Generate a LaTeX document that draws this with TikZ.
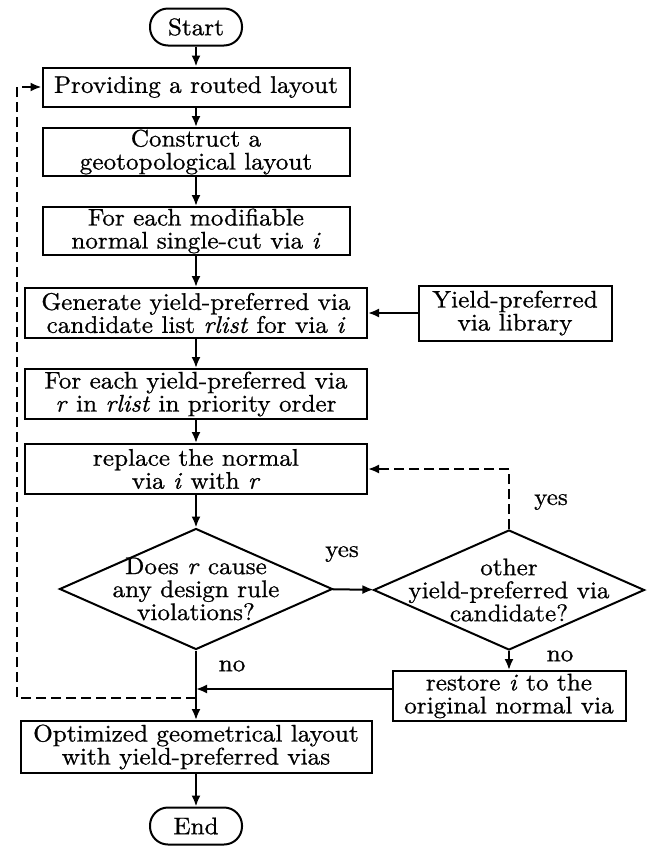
\documentclass[tikz,border=0pt]{standalone}
\usepackage{fontspec}
\setmainfont{lmroman10-regular.otf}[ItalicFont=lmroman10-italic.otf, FakeStretch=1.05, FakeBold=0.8]
\usetikzlibrary{shapes.geometric,arrows.meta}

\begin{document}
\begin{tikzpicture}[x=1pt, y=-1pt, font=\fontsize{24}{23}\selectfont,
    proc/.style={draw, line width=2pt, align=center, inner xsep=2pt, inner ysep=0pt, minimum height=50pt},
    term/.style={draw, line width=2pt, rounded corners=18pt, minimum width=92pt, minimum height=37pt, inner sep=0pt},
    decision/.style={draw, diamond, line width=2pt, minimum width=273pt, minimum height=121pt, inner sep=0pt},
    flowline/.style={line width=2pt, -{Latex[length=11pt,width=9pt]}},
    loopback/.style={flowline, dash pattern=on 10pt off 5pt}]
    \useasboundingbox (0,0) rectangle (649,847);

    \node[term] (start) at (196,27) {Start};
    \node[proc, minimum width=307pt, minimum height=39pt] (provide) at (196,87) {Providing a routed layout};
    \node[proc, minimum width=307pt, minimum height=48pt] (construct) at (196,152) {Construct a\\geotopological layout};
    \node[proc, minimum width=307pt, minimum height=48pt] (foreachvia) at (196,231) {For each modifiable\\normal single-cut via \textit{i}};
    \node[proc, minimum width=342pt] (generate) at (196,313) {Generate yield-preferred via\\candidate list \textit{rlist} for via \textit{i}};
    \node[proc, minimum width=193pt, minimum height=55pt] (library) at (515,313) {Yield-preferred\\via library};
    \node[proc, minimum width=342pt] (foreachr) at (196,394) {For each yield-preferred via\\\textit{r} in \textit{rlist} in priority order};
    \node[proc, minimum width=342pt] (replace) at (196,469) {replace the normal\\via \textit{i} with \textit{r}};
    \node[decision] (drc) at (196,589) {};
    \node[align=center] (drctext) at (drc) {Does \textit{r} cause\\any design rule\\violations?};
    \node[decision, minimum width=271pt, minimum height=120pt] (other) at (509,590) {};
    \node[align=center] (othertext) at (other) {other\\yield-preferred via\\candidate?};
    \node[proc, minimum width=233pt] (restore) at (509,696) {restore \textit{i} to the\\original normal via};
    \node[proc, minimum width=351pt, minimum height=52pt] (optimized) at (196,747) {Optimized geometrical layout\\with yield-preferred vias};
    \node[term] (end) at (196,826) {End};

    % branch labels
    \node (yesdrc) at (342,554) {yes};
    \node (yesother) at (551,502) {yes};
    \node (noother) at (560,656) {no};
    \node (nodrc) at (232,666) {no};

    \coordinate (loop) at (17,698);

    \draw[flowline] (start) -- (provide);
    \draw[flowline] (provide) -- (construct);
    \draw[flowline] (construct) -- (foreachvia);
    \draw[flowline] (foreachvia) -- (generate);
    \draw[flowline] (library) -- (generate);
    \draw[flowline] (generate) -- (foreachr);
    \draw[flowline] (foreachr) -- (replace);
    \draw[flowline] (replace) -- (drc);
    \draw[flowline] (drc) -- (other);
    \draw[flowline] (other) -- (restore);
    \draw[flowline] (drc) -- (optimized);
    \draw[flowline] ([yshift=7pt]restore.west) -- ([yshift=7pt]restore.west -| drc.south);
    \draw[flowline] (optimized) -- (end);

    % loops back
    \draw[loopback] (other) |- (replace);
    \draw[loopback] (drc.south |- loop) -- (loop) |- (provide);
\end{tikzpicture}
\end{document}
